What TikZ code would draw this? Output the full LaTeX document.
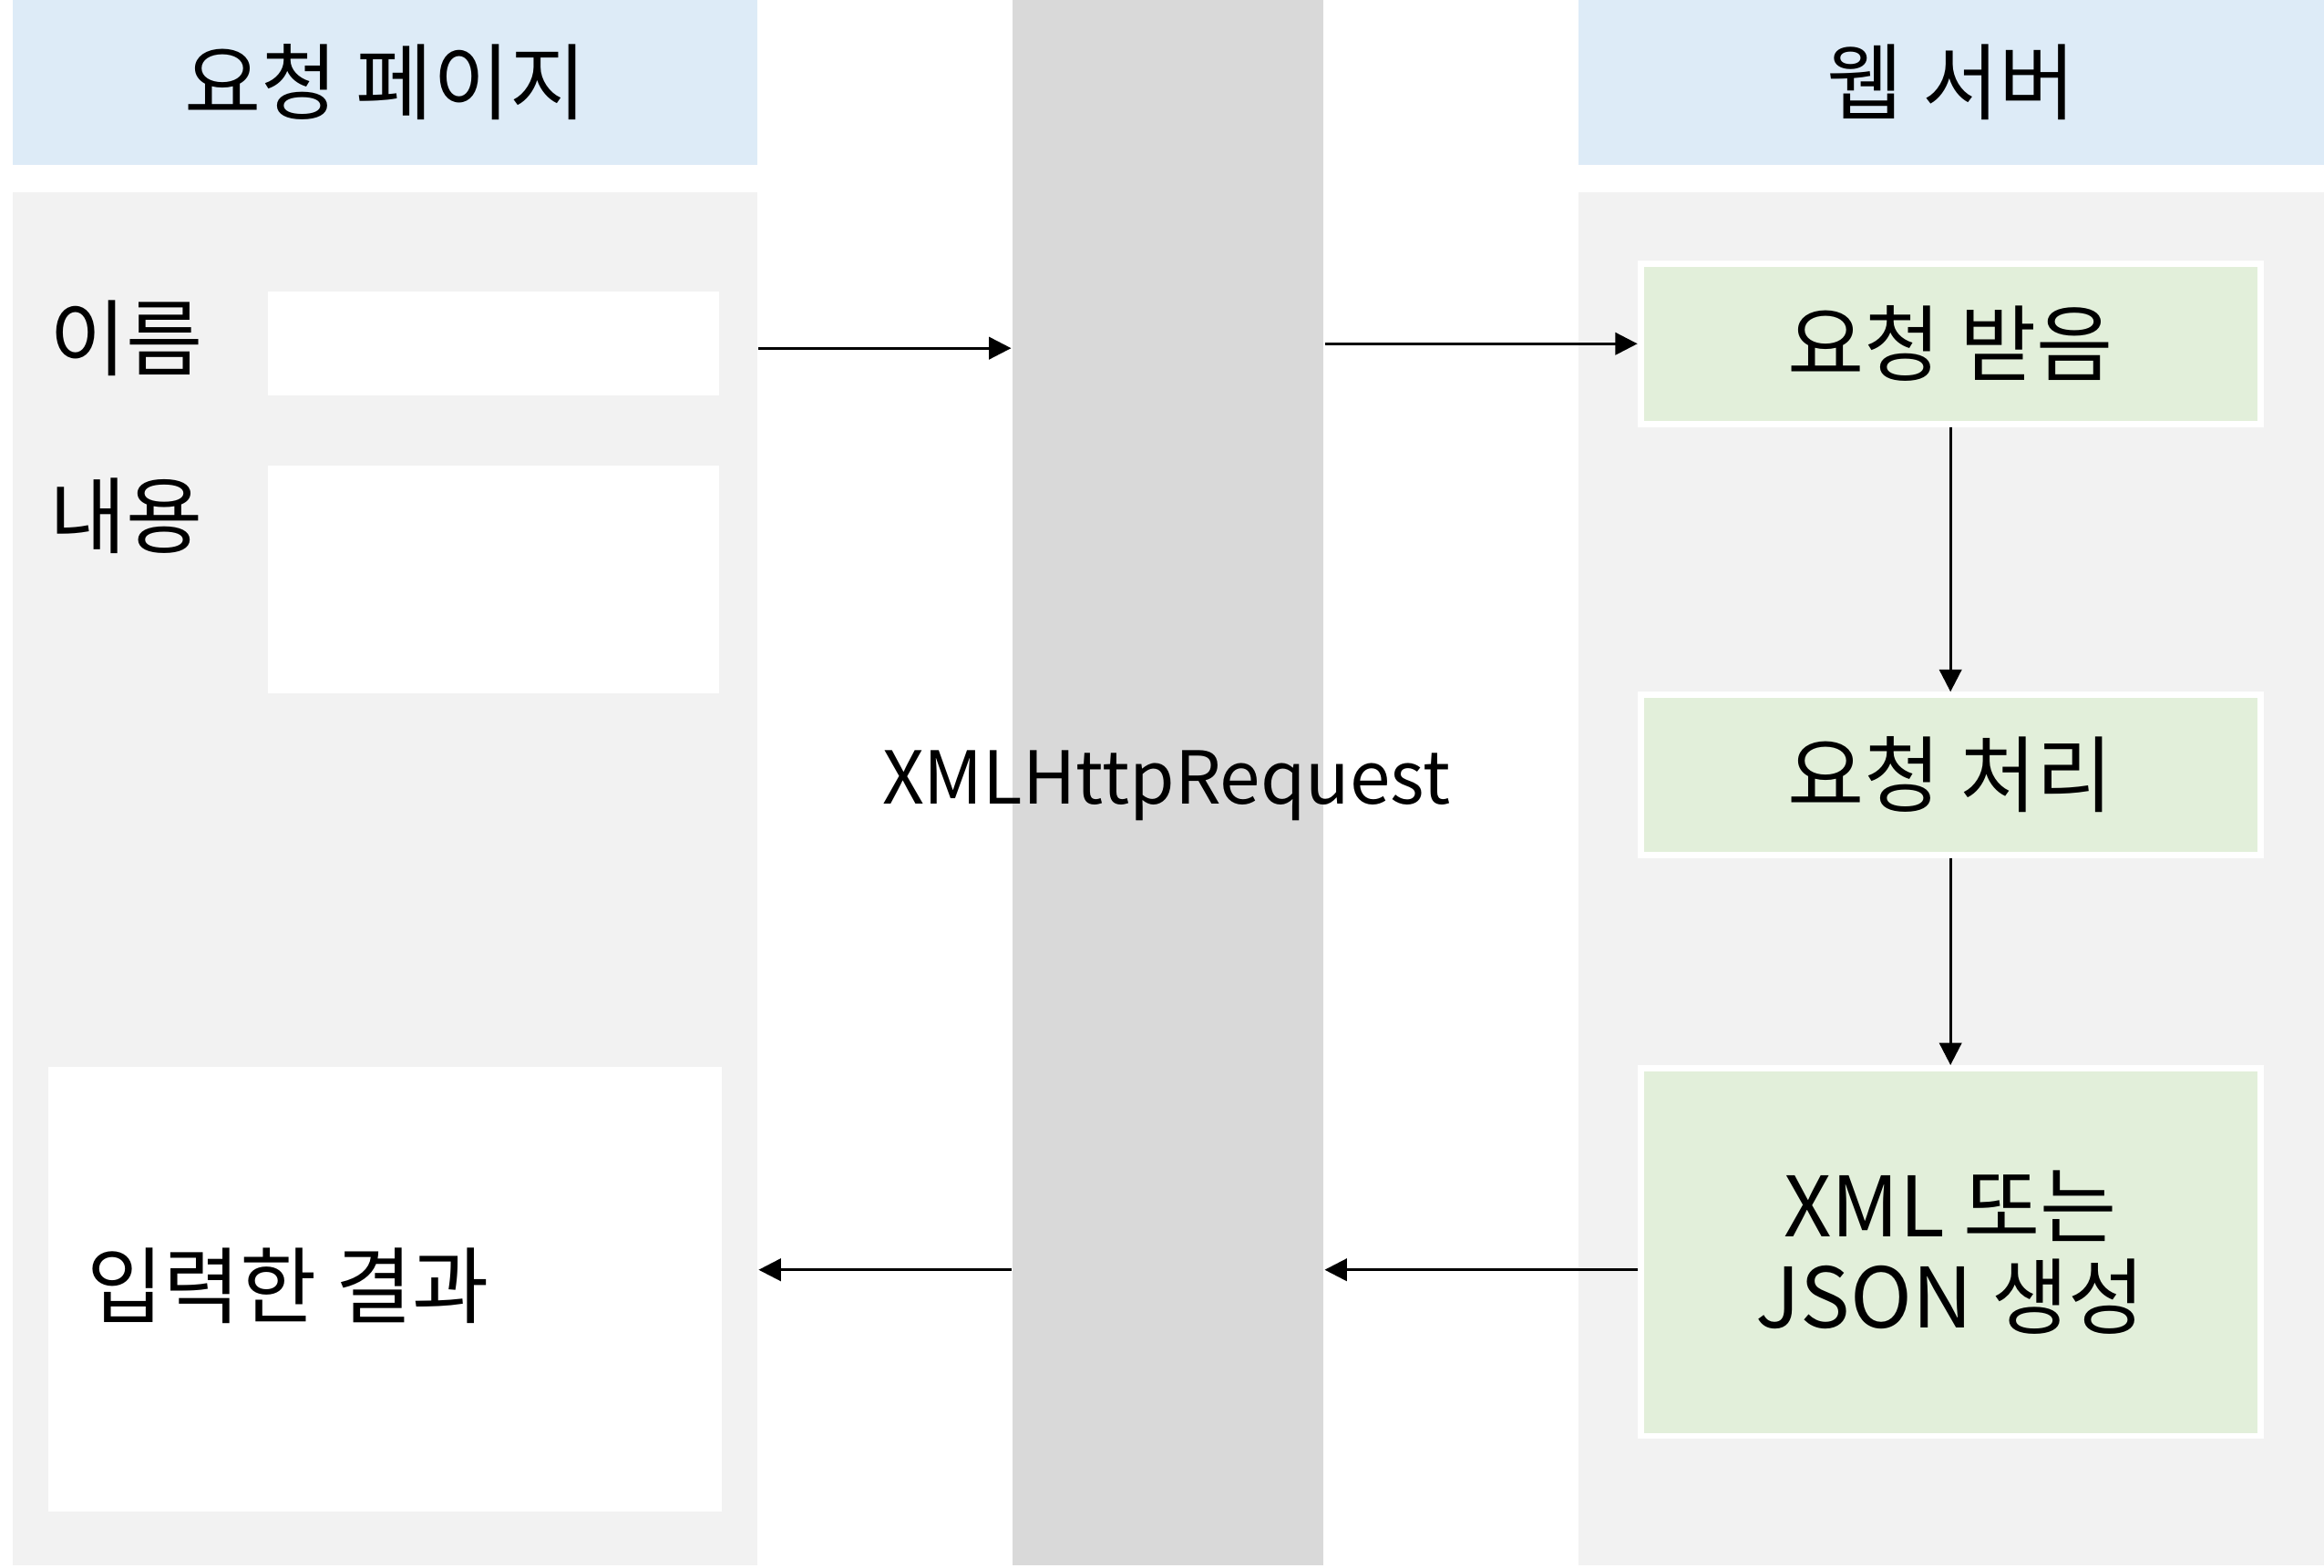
\documentclass[tikz,border=0pt]{standalone}
\usepackage{fontspec}
\setmainfont{Noto Sans CJK KR}
\usetikzlibrary{positioning}
\usetikzlibrary{arrows.meta}
\definecolor{hdrblue}{HTML}{DDEBF7}
\definecolor{panelgray}{HTML}{F2F2F2}
\definecolor{stripgray}{HTML}{D9D9D9}
\definecolor{stepgreen}{HTML}{E2EFDA}
\tikzset{
    hdrnode/.style = {rectangle, fill=hdrblue, minimum width=5.02cm, minimum height=1.11cm, inner sep=0pt},
    panelnode/.style = {rectangle, fill=panelgray, minimum width=5.02cm, minimum height=9.26cm, inner sep=0pt},
    boxnode/.style = {rectangle, fill=white, inner sep=0pt},
    stepnode/.style = {rectangle, fill=stepgreen, draw=white, line width=1.2pt, minimum width=4.18cm, align=center, inner sep=0pt},
    labnode/.style = {anchor=west, inner sep=0pt},
    edgen/.style = {-{Triangle[length=0.15cm,width=0.15cm]}, line width=0.5pt, black}, % flow
}

\begin{document}
\begin{tikzpicture}[x=0.01cm, y=-0.01cm, font=\fontsize{16}{17.5}\selectfont]
  \useasboundingbox (0,0) rectangle (1568,1058);
  % columns
  \node[hdrnode] (lhead) at (260,55.5) {요청 페이지};
  \node[hdrnode, minimum width=5.03cm] (rhead) at (1316.5,55.5) {웹 서버};
  \node[panelnode] (lpanel) at (260,593) {};
  \node[panelnode, minimum width=5.03cm] (rpanel) at (1316.5,593) {};
  \node[rectangle, fill=stripgray, minimum width=2.10cm, minimum height=10.56cm, inner sep=0pt] (strip) at (788,528) {};
  \node[font=\fontsize{14}{16}\selectfont] (xhr) at (787,530) {XMLHttpRequest};
  % request page
  \node[labnode] (namelab) at (33,228) {이름};
  \node[boxnode, minimum width=3.04cm, minimum height=0.70cm] (namebox) at (333,232) {};
  \node[labnode] (textlab) at (33,348) {내용};
  \node[boxnode, minimum width=3.04cm, minimum height=1.54cm] (textbox) at (333,391) {};
  \node[boxnode, minimum width=4.54cm, minimum height=3.00cm] (resbox) at (260,870) {};
  \node[labnode] (reslab) at (58,868) {입력한 결과};
  % web server
  \node[stepnode, minimum height=1.08cm] (step1) at (1316,232) {요청 받음};
  \node[stepnode, minimum height=1.08cm] (step2) at (1316,523) {요청 처리};
  \node[stepnode, minimum height=2.48cm] (step3) at (1316,845) {XML 또는\\JSON 생성};
  % arrows
  \draw[edgen] ([yshift=-0.03cm]lpanel.east |- step1.west) -- ([yshift=-0.03cm]strip.west |- step1.west);
  \draw[edgen] (strip.east |- step1.west) -- (step1.west);
  \draw[edgen] (step1) -- (step2);
  \draw[edgen] (step2) -- (step3);
  \coordinate (ret) at ([yshift=-0.12cm]step3.west);
  \draw[edgen] (ret) -- (ret -| strip.east);
  \draw[edgen] (ret -| strip.west) -- (ret -| lpanel.east);
\end{tikzpicture}
\end{document}
